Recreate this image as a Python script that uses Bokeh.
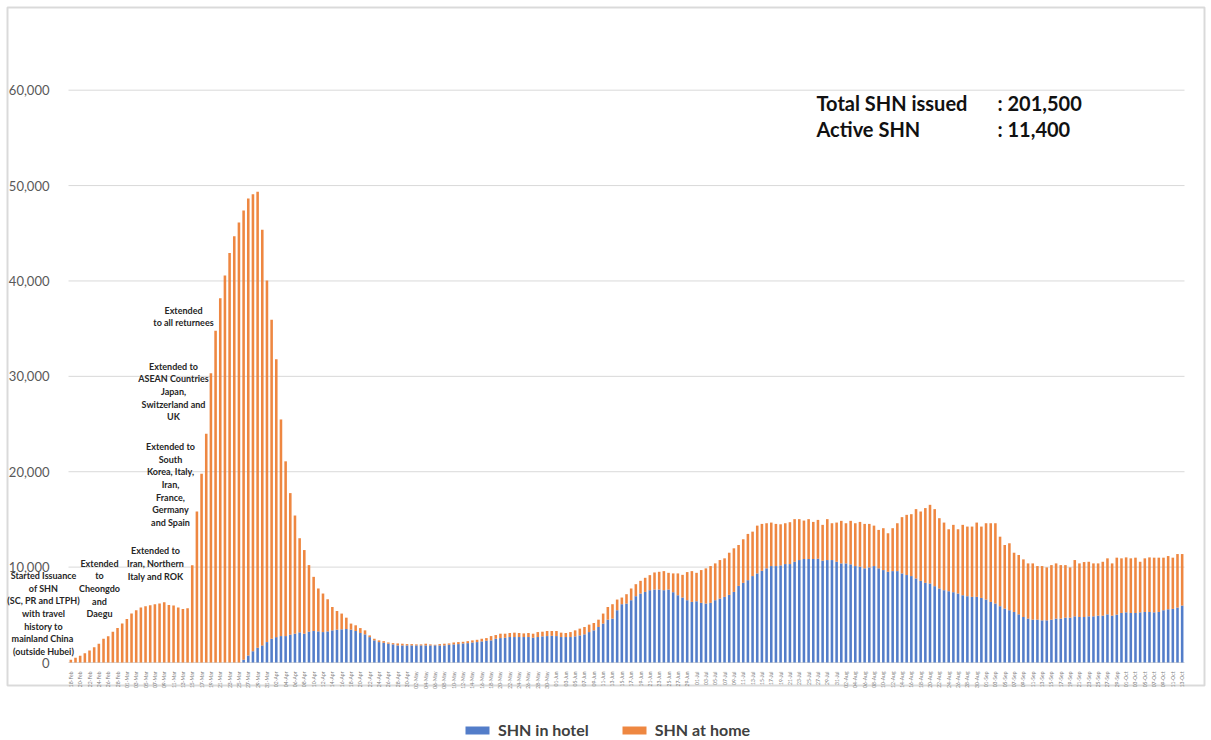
import math
import pandas as pd
from bokeh.plotting import figure
from bokeh.models import (Range1d, FixedTicker, NumeralTickFormatter, Legend,
                          LegendItem, Label, BoxAnnotation, ColumnDataSource)
from bokeh.embed import file_html
from bokeh.resources import INLINE

# ---------------- data ----------------
start_date = "2020-02-18"

total_shn = [
    280, 500, 700, 980, 1260, 1610, 1970, 2500, 2740, 3230,
    3610, 4080, 4560, 5130, 5480, 5760, 5900, 6000, 6100, 6180,
    6320, 6030, 5970, 5760, 5610, 5690, 10200, 15830, 19800, 23980,
    30330, 34780, 38190, 40570, 42930, 44680, 46120, 47390, 48650, 49100,
    49350, 45380, 40050, 35940, 31800, 25480, 21090, 17760, 15410, 13030,
    11790, 10210, 8980, 7760, 7230, 6630, 5820, 5400, 5130, 4700,
    4080, 3900, 3610, 3370, 2840, 2490, 2320, 2240, 2100, 2030,
    2000, 1970, 1930, 1930, 1900, 1900, 1970, 1900, 1860, 1930,
    1970, 2000, 2100, 2140, 2170, 2240, 2320, 2380, 2490, 2560,
    2770, 2880, 3020, 3020, 3090, 3130, 3090, 3050, 3090, 3020,
    3190, 3230, 3300, 3300, 3300, 3130, 3090, 3190, 3370, 3550,
    3720, 3970, 4140, 4490, 5130, 5820, 6110, 6600, 6810, 7160,
    7760, 8210, 8560, 8880, 9160, 9440, 9510, 9580, 9400, 9340,
    9340, 9190, 9480, 9580, 9400, 9690, 9870, 10110, 10390, 10740,
    10920, 11510, 11970, 12320, 12920, 13480, 13720, 14350, 14530, 14600,
    14670, 14530, 14490, 14600, 14710, 15030, 15030, 14880, 15030, 14740,
    14950, 14430, 15030, 14600, 14670, 14850, 14600, 14850, 14600, 14740,
    14530, 14530, 14350, 13900, 14080, 13550, 14080, 14600, 15240, 15480,
    15550, 16080, 15830, 16190, 16530, 16080, 15130, 14670, 13970, 14430,
    13970, 14430, 14250, 14250, 14670, 14250, 14600, 14600, 14600, 13190,
    12320, 12500, 11510, 11270, 10810, 10390, 10390, 10110, 10110, 9970,
    10210, 10390, 10210, 10210, 9970, 10740, 10390, 10530, 10560, 10390,
    10390, 10560, 10920, 10390, 10990, 10920, 11020, 10920, 10990, 10560,
    10920, 11020, 10990, 10990, 10990, 11160, 10990, 11370, 11370,
]

shn_in_hotel = [
    0, 0, 0, 0, 0, 0, 0, 0, 0, 0,
    0, 0, 0, 0, 0, 0, 0, 0, 0, 0,
    0, 0, 0, 0, 0, 0, 0, 0, 0, 0,
    0, 0, 0, 0, 0, 0, 0, 280, 740, 1190,
    1550, 1790, 2140, 2490, 2660, 2770, 2770, 2920, 3020, 3160,
    3020, 3230, 3300, 3260, 3190, 3260, 3370, 3440, 3480, 3510,
    3440, 3300, 3090, 2950, 2660, 2320, 2140, 2070, 1970, 1900,
    1790, 1790, 1790, 1790, 1790, 1790, 1790, 1790, 1790, 1790,
    1790, 1860, 1900, 1930, 2000, 2030, 2100, 2140, 2210, 2280,
    2320, 2490, 2560, 2600, 2670, 2670, 2670, 2670, 2670, 2600,
    2670, 2740, 2770, 2800, 2770, 2670, 2670, 2670, 2740, 2840,
    2950, 3190, 3370, 3720, 4080, 4490, 4600, 5480, 6110, 6180,
    6530, 6950, 7230, 7400, 7580, 7650, 7650, 7580, 7650, 7370,
    7050, 6810, 6530, 6350, 6420, 6250, 6180, 6250, 6530, 6700,
    6880, 7090, 7400, 8030, 8350, 8630, 9060, 9340, 9610, 9870,
    10110, 10110, 10180, 10320, 10320, 10560, 10740, 10850, 10850, 10850,
    10880, 10670, 10740, 10740, 10560, 10390, 10390, 10290, 10110, 10040,
    9870, 9970, 10110, 9870, 9690, 9510, 9580, 9580, 9340, 9170,
    9060, 8810, 8560, 8350, 8280, 8000, 7760, 7580, 7470, 7370,
    7230, 7050, 6950, 6880, 6880, 6770, 6600, 6350, 6180, 5900,
    5650, 5480, 5300, 5050, 4770, 4600, 4490, 4490, 4420, 4420,
    4490, 4600, 4600, 4700, 4700, 4840, 4770, 4770, 4840, 4840,
    4910, 4910, 5050, 4910, 5020, 5190, 5260, 5190, 5190, 5260,
    5300, 5300, 5260, 5300, 5480, 5580, 5620, 5760, 5970,
]

series_names = ["SHN in hotel", "SHN at home"]
y_ticks = [0, 10000, 20000, 30000, 40000, 50000, 60000]

summary_labels = ["Total SHN issued", "Active SHN"]
summary_values = [": 201,500", ": 11,400"]

annotations = [
    "Started Issuance\nof SHN\n(SC, PR and LTPH)\nwith travel\nhistory to\nmainland  China\n(outside Hubei)",
    "Extended\nto\nCheongdo\nand\nDaegu",
    "Extended to\nIran, Northern\nItaly and ROK",
    "Extended to\nSouth\nKorea, Italy,\nIran,\nFrance,\nGermany\nand Spain",
    "Extended to\nASEAN Countries\nJapan,\nSwitzerland and\nUK",
    "Extended\nto all returnees",
]

# ---------------- derived ----------------
n = len(total_shn)
shn_at_home = [max(t - h, 0) for t, h in zip(total_shn, shn_in_hotel)]
dates = list(pd.date_range(start_date, periods=n).strftime("%d-%b"))
idx = list(range(n))

BLUE = "#4472C4"
ORANGE = "#ED7D31"
FONT = "Lato"
W, H = 1211, 740

# page-pixel geometry of the plotting area (used only to place texts / frame)
PLOT_LEFT, PLOT_W, PLOT_BOTTOM, PLOT_H, PLOT_YMAX = 68, 1116, 662, 620, 65000


def px_x(px):
    return (px - PLOT_LEFT) / PLOT_W * n - 0.5


def px_y(py):
    return (PLOT_BOTTOM - py) / PLOT_H * PLOT_YMAX


src = ColumnDataSource(dict(x=idx, hotel=shn_in_hotel, home=shn_at_home, date=dates))

p = figure(width=W, height=H, output_backend="svg", toolbar_location=None,
           x_range=Range1d(px_x(0), px_x(W)), y_range=Range1d(px_y(H), px_y(0)),
           min_border_left=0, min_border_right=0, min_border_top=0,
           min_border_bottom=0)
p.outline_line_color = None
p.background_fill_color = "white"
p.border_fill_color = "white"
p.xgrid.visible = False
p.ygrid.visible = False

# horizontal gridlines + baseline over the data span
p.segment(x0=[-0.5] * len(y_ticks), x1=[n - 0.5] * len(y_ticks), y0=y_ticks, y1=y_ticks,
          line_color="#d9d9d9", line_width=1)

rs = p.vbar_stack(["hotel", "home"], x="x", width=0.55, source=src,
                  fill_color=[BLUE, ORANGE], fill_alpha=0.92, line_color=None)

# axes (labels drawn inward with negative standoff)
p.xaxis.ticker = FixedTicker(ticks=idx[::2])
p.xaxis.major_label_overrides = {i: dates[i] for i in idx[::2]}
p.xaxis.major_label_orientation = math.pi / 2
p.xaxis.major_label_text_font_size = "5px"
p.xaxis.major_label_text_font = FONT
p.xaxis.major_label_text_color = "#808080"
p.xaxis.major_label_standoff = -(H - 665)
p.xaxis.major_tick_line_color = None
p.xaxis.minor_tick_line_color = None
p.xaxis.axis_line_color = None

p.yaxis.ticker = FixedTicker(ticks=y_ticks)
p.yaxis.formatter = NumeralTickFormatter(format="0,0")
p.yaxis.major_label_text_font = FONT
p.yaxis.major_label_text_font_size = "13px"
p.yaxis.major_label_text_color = "#595959"
p.yaxis.major_label_standoff = -55
p.yaxis.major_tick_line_color = None
p.yaxis.minor_tick_line_color = None
p.yaxis.axis_line_color = None

# outer frame of the chart area
p.add_layout(BoxAnnotation(left=px_x(7), right=px_x(1204), top=px_y(7), bottom=px_y(685),
                           fill_alpha=0, line_color="#868686", line_width=2))

# summary text (top right)
for lab, val, py in zip(summary_labels, summary_values, [102, 128]):
    p.add_layout(Label(x=px_x(816), y=px_y(py), text=lab, text_font=FONT,
                       text_font_style="bold", text_font_size="20px",
                       text_color="#111111", text_baseline="middle", text_align="left"))
    p.add_layout(Label(x=px_x(997), y=px_y(py), text=val, text_font=FONT,
                       text_font_style="bold", text_font_size="20px",
                       text_color="#111111", text_baseline="middle", text_align="left"))

# event annotations
ann_pos = [(43, 613), (99, 588), (155, 563), (170, 484), (173, 391), (183, 316)]
for txt, (ax, ay) in zip(annotations, ann_pos):
    p.add_layout(Label(x=px_x(ax), y=px_y(ay), text=txt, text_font=FONT,
                       text_font_style="bold", text_font_size="9px",
                       text_color="#262626", text_align="center",
                       text_baseline="middle", text_line_height=1.15))

legend = Legend(items=[LegendItem(label=series_names[0], renderers=[rs[0]]),
                       LegendItem(label=series_names[1], renderers=[rs[1]])],
                orientation="horizontal", location=(462, 1),
                glyph_width=30, glyph_height=10, label_standoff=6, spacing=30,
                padding=0, margin=0, border_line_color=None,
                background_fill_alpha=0, label_text_font=FONT,
                label_text_font_style="bold", label_text_font_size="16px",
                label_text_color="#404040", label_height=18)
p.add_layout(legend, "center")

open("out.html", "w").write(file_html(p, INLINE))
